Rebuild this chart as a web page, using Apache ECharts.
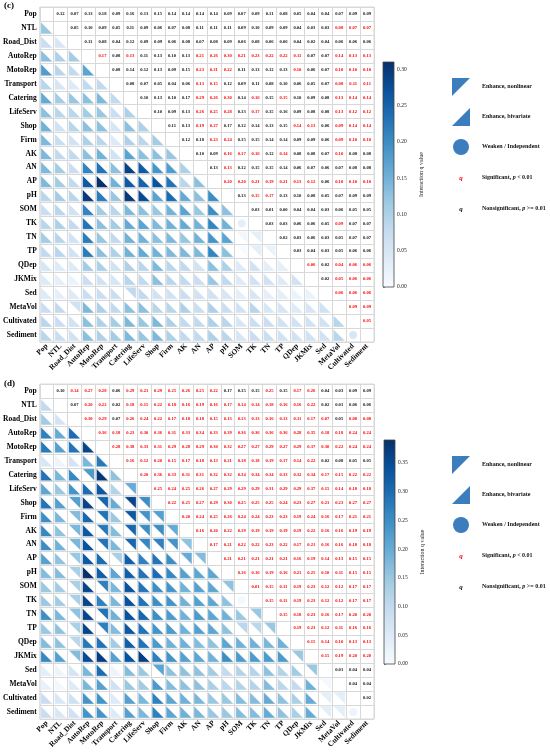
<!DOCTYPE html>
<html>
<head>
<meta charset="utf-8">
<script src="https://cdn.jsdelivr.net/npm/echarts@6/dist/echarts.min.js"></script>
<style>
html, body { margin: 0; padding: 0; background: #fff; }
#main { width: 550px; height: 754px; }
</style>
</head>
<body>
<div id="main"></div>
<script>
var vars = ['Pop', 'NTL', 'Road_Dist', 'AutoRep', 'MotoRep', 'Transport', 'Catering', 'LifeServ', 'Shop', 'Firm',
    'AK', 'AN', 'AP', 'pH', 'SOM', 'TK', 'TN', 'TP', 'QDep', 'JKMix', 'Sed', 'MetaVol', 'Cultivated', 'Sediment'];

// panel (c): interaction q, row i holds columns i+1 .. 23
var qC = [
    [0.12, 0.07, 0.13, 0.18, 0.09, 0.16, 0.13, 0.15, 0.14, 0.14, 0.14, 0.14, 0.09, 0.07, 0.09, 0.11, 0.08, 0.05, 0.04, 0.04, 0.07, 0.09, 0.09],
    [0.05, 0.10, 0.09, 0.05, 0.11, 0.09, 0.06, 0.07, 0.08, 0.11, 0.11, 0.11, 0.09, 0.10, 0.09, 0.09, 0.04, 0.03, 0.03, 0.08, 0.07, 0.07],
    [0.11, 0.08, 0.04, 0.12, 0.09, 0.09, 0.06, 0.08, 0.07, 0.08, 0.09, 0.06, 0.08, 0.06, 0.06, 0.04, 0.02, 0.04, 0.06, 0.06, 0.06],
    [0.17, 0.08, 0.13, 0.11, 0.13, 0.10, 0.13, 0.21, 0.26, 0.30, 0.21, 0.23, 0.22, 0.22, 0.11, 0.07, 0.07, 0.14, 0.13, 0.13],
    [0.08, 0.14, 0.12, 0.13, 0.09, 0.15, 0.23, 0.31, 0.22, 0.11, 0.13, 0.12, 0.13, 0.10, 0.06, 0.07, 0.10, 0.10, 0.10],
    [0.08, 0.07, 0.05, 0.04, 0.06, 0.13, 0.15, 0.12, 0.09, 0.11, 0.08, 0.10, 0.06, 0.05, 0.07, 0.08, 0.11, 0.11],
    [0.10, 0.13, 0.10, 0.17, 0.29, 0.26, 0.30, 0.14, 0.16, 0.15, 0.15, 0.10, 0.09, 0.08, 0.13, 0.14, 0.14],
    [0.10, 0.09, 0.13, 0.26, 0.25, 0.28, 0.13, 0.17, 0.15, 0.16, 0.09, 0.08, 0.08, 0.13, 0.12, 0.12],
    [0.11, 0.13, 0.19, 0.27, 0.17, 0.12, 0.14, 0.13, 0.15, 0.14, 0.13, 0.06, 0.09, 0.14, 0.14],
    [0.12, 0.18, 0.23, 0.24, 0.15, 0.15, 0.14, 0.14, 0.09, 0.09, 0.06, 0.09, 0.10, 0.10],
    [0.10, 0.09, 0.16, 0.17, 0.16, 0.12, 0.14, 0.08, 0.08, 0.07, 0.10, 0.08, 0.08],
    [0.13, 0.13, 0.12, 0.15, 0.15, 0.14, 0.06, 0.07, 0.06, 0.07, 0.08, 0.08],
    [0.20, 0.20, 0.21, 0.19, 0.21, 0.13, 0.12, 0.06, 0.10, 0.10, 0.10],
    [0.13, 0.15, 0.17, 0.13, 0.10, 0.08, 0.05, 0.07, 0.09, 0.09],
    [0.03, 0.01, 0.00, 0.04, 0.04, 0.03, 0.06, 0.05, 0.05],
    [0.03, 0.03, 0.06, 0.06, 0.05, 0.09, 0.07, 0.07],
    [0.02, 0.03, 0.06, 0.03, 0.05, 0.07, 0.07],
    [0.03, 0.04, 0.03, 0.05, 0.06, 0.06],
    [0.06, 0.02, 0.04, 0.06, 0.06],
    [0.02, 0.05, 0.06, 0.06],
    [0.06, 0.06, 0.06],
    [0.09, 0.09],
    [0.05]
];
// columns printed in red (p < 0.01) for each row of (c)
var redC = [
    [], [21, 22, 23], [], [4, 6, 11, 12, 13, 14, 15, 16, 17, 18, 21, 22, 23],
    [11, 12, 13, 18, 21, 22, 23], [11, 12, 21, 22, 23], [11, 12, 13, 15, 17, 21, 22, 23],
    [11, 12, 13, 15, 21, 22, 23], [11, 12, 18, 19, 21, 22, 23], [12, 13, 21, 22, 23],
    [13, 14, 15, 17, 21], [13], [13, 14, 15, 16, 17, 18, 19, 21, 22, 23], [15, 16],
    [], [21], [], [], [19, 21, 22, 23], [21, 22, 23], [21, 22, 23], [22, 23], [23]
];
// lower cells [row, col] that are bivariate enhance / weaken
var bivC = [[16, 14], [16, 15], [17, 14], [17, 15], [17, 16], [20, 6], [21, 2]];
var weakC = [[15, 14], [23, 22]];

// panel (d)
var qD = [
    [0.10, 0.14, 0.27, 0.28, 0.06, 0.29, 0.21, 0.29, 0.25, 0.26, 0.25, 0.22, 0.17, 0.15, 0.15, 0.25, 0.15, 0.17, 0.26, 0.04, 0.03, 0.09, 0.09],
    [0.07, 0.20, 0.22, 0.02, 0.18, 0.15, 0.22, 0.18, 0.16, 0.19, 0.16, 0.17, 0.14, 0.14, 0.18, 0.16, 0.16, 0.22, 0.02, 0.01, 0.06, 0.06],
    [0.30, 0.29, 0.07, 0.26, 0.24, 0.22, 0.17, 0.18, 0.18, 0.15, 0.13, 0.13, 0.13, 0.16, 0.13, 0.11, 0.17, 0.07, 0.05, 0.08, 0.08],
    [0.36, 0.18, 0.23, 0.30, 0.36, 0.31, 0.33, 0.34, 0.33, 0.39, 0.36, 0.36, 0.36, 0.36, 0.28, 0.35, 0.18, 0.18, 0.24, 0.24],
    [0.28, 0.38, 0.33, 0.31, 0.29, 0.28, 0.29, 0.30, 0.32, 0.27, 0.27, 0.29, 0.27, 0.29, 0.37, 0.30, 0.22, 0.24, 0.24],
    [0.16, 0.12, 0.20, 0.15, 0.17, 0.18, 0.13, 0.21, 0.18, 0.18, 0.19, 0.17, 0.14, 0.22, 0.02, 0.08, 0.05, 0.05],
    [0.20, 0.36, 0.33, 0.31, 0.31, 0.32, 0.32, 0.34, 0.34, 0.34, 0.33, 0.32, 0.34, 0.17, 0.15, 0.22, 0.22],
    [0.25, 0.24, 0.25, 0.26, 0.27, 0.29, 0.29, 0.29, 0.31, 0.29, 0.29, 0.37, 0.15, 0.14, 0.18, 0.18],
    [0.22, 0.25, 0.27, 0.29, 0.30, 0.25, 0.25, 0.25, 0.24, 0.23, 0.27, 0.21, 0.23, 0.27, 0.27],
    [0.20, 0.24, 0.25, 0.26, 0.24, 0.24, 0.23, 0.23, 0.19, 0.24, 0.16, 0.17, 0.21, 0.21],
    [0.16, 0.20, 0.22, 0.19, 0.19, 0.19, 0.19, 0.19, 0.22, 0.16, 0.16, 0.19, 0.19],
    [0.17, 0.21, 0.22, 0.22, 0.23, 0.22, 0.17, 0.21, 0.16, 0.16, 0.18, 0.18],
    [0.21, 0.21, 0.21, 0.21, 0.21, 0.16, 0.19, 0.14, 0.13, 0.15, 0.15],
    [0.16, 0.16, 0.19, 0.16, 0.21, 0.25, 0.10, 0.11, 0.15, 0.15],
    [0.01, 0.15, 0.11, 0.19, 0.23, 0.12, 0.12, 0.17, 0.17],
    [0.15, 0.11, 0.19, 0.23, 0.12, 0.12, 0.17, 0.17],
    [0.15, 0.18, 0.23, 0.16, 0.17, 0.20, 0.20],
    [0.19, 0.23, 0.12, 0.11, 0.16, 0.16],
    [0.15, 0.14, 0.10, 0.13, 0.13],
    [0.15, 0.19, 0.20, 0.20],
    [0.01, 0.04, 0.04],
    [0.04, 0.04],
    [0.02]
];
// columns printed in black (p >= 0.01) for each row of (d), the rest are red
var nsD = [
    [1, 5, 13, 14, 15, 17, 20, 21, 22, 23], [2, 5, 20, 21, 22, 23], [5, 21], [], [],
    [20, 21, 22, 23], [], [], [], [], [], [], [], [], [], [], [], [], [], [],
    [21, 22, 23], [22, 23], [23]
];
var bivD = [[6, 3], [7, 6], [8, 2], [8, 4], [8, 6], [8, 7], [9, 2], [9, 4], [9, 6], [9, 7], [9, 8],
    [10, 2], [10, 4], [10, 6], [10, 7], [10, 8], [10, 9], [11, 2], [11, 4], [11, 6], [11, 7], [11, 8],
    [11, 9], [11, 10], [12, 2], [12, 5], [12, 10], [12, 11], [13, 2], [14, 2], [14, 4], [14, 13],
    [15, 2], [16, 2], [16, 4], [16, 15], [17, 2], [17, 4], [17, 14], [17, 15], [17, 16], [18, 2],
    [19, 2], [19, 18], [20, 8], [20, 19], [21, 20], [22, 20], [22, 21], [23, 20], [23, 21]];
var weakD = [[15, 14], [23, 22]];

// colour bar ticks and tops
var ticksC = [0, 0.05, 0.10, 0.15, 0.20, 0.25, 0.30];
var ticksD = [0, 0.05, 0.10, 0.15, 0.20, 0.25, 0.30, 0.35];
var maxC = 0.31;
var maxD = 0.39;

var blues = ['#f7fbff', '#deebf7', '#c6dbef', '#9ecae1', '#6baed6', '#4292c6', '#2171b5', '#08519c', '#08306b'];
var serif = "'Liberation Serif', 'Times New Roman', serif";
var iconBlue = '#3b7dbd';

function hasPair(list, r, c) {
    for (var i = 0; i < list.length; i++) {
        if (list[i][0] === r && list[i][1] === c) return true;
    }
    return false;
}

function buildCells(q, isSig, biv, weak) {
    var text = [], glyph = [];
    q.forEach(function (row, i) {
        row.forEach(function (v, k) {
            var j = i + 1 + k;
            text.push([j, i, v, isSig(i, j) ? 1 : 0]);
            var kind = hasPair(weak, j, i) ? 2 : (hasPair(biv, j, i) ? 1 : 0);
            glyph.push([i, j, v, kind]);
        });
    });
    return { text: text, glyph: glyph };
}

var cellsC = buildCells(qC, function (i, j) { return redC[i].indexOf(j) >= 0; }, bivC, weakC);
var cellsD = buildCells(qD, function (i, j) { return nsD[i].indexOf(j) < 0; }, bivD, weakD);

function renderText(params, api) {
    var p = api.coord([api.value(0), api.value(1)]);
    return {
        type: 'text',
        style: {
            text: api.value(2).toFixed(2),
            x: p[0], y: p[1],
            align: 'center', verticalAlign: 'middle',
            fontSize: 4.6, fontWeight: 'bold', fontFamily: serif,
            fill: api.value(3) ? '#ff0000' : '#111'
        }
    };
}

function renderGlyph(params, api) {
    var p = api.coord([api.value(0), api.value(1)]);
    var s = api.size([1, 1]);
    var x0 = p[0] - s[0] / 2 + 1, y0 = p[1] - s[1] / 2 + 1;
    var x1 = p[0] + s[0] / 2 - 1, y1 = p[1] + s[1] / 2 - 1;
    var color = api.visual('color');
    var kind = api.value(3);
    if (kind === 2) {
        return {
            type: 'circle',
            shape: { cx: p[0], cy: p[1], r: s[0] * 0.3 },
            style: { fill: color, stroke: 'rgba(255,255,255,0.8)', lineWidth: 0.5 }
        };
    }
    var pts = kind === 1 ? [[x0, y0], [x1, y0], [x1, y1]] : [[x0, y0], [x0, y1], [x1, y1]];
    return {
        type: 'polygon',
        shape: { points: pts },
        style: { fill: color, stroke: 'rgba(255,255,255,0.8)', lineWidth: 0.5 }
    };
}

function renderBar(params, api) {
    var a = api.coord([0, 0]);
    var b = api.coord([1, api.value(1)]);
    var stops = blues.map(function (c, i) { return { offset: 1 - i / (blues.length - 1), color: c }; });
    stops.reverse();
    return {
        type: 'rect',
        shape: { x: a[0], y: b[1], width: b[0] - a[0], height: a[1] - b[1] },
        style: { fill: new echarts.graphic.LinearGradient(0, 0, 0, 1, stops), stroke: '#444', lineWidth: 0.8 }
    };
}

function matrixAxes(gi) {
    var split = { show: true, interval: 0, lineStyle: { color: '#d8d8d8', width: 1 } };
    return {
        x: {
            type: 'category', gridIndex: gi, data: vars, position: 'bottom',
            axisLine: { show: false }, axisTick: { show: false }, splitLine: split,
            axisLabel: { interval: 0, rotate: 45, margin: 3, fontSize: 7.5, fontWeight: 'bold', fontFamily: serif, color: '#000' }
        },
        y: {
            type: 'category', gridIndex: gi, data: vars, inverse: true,
            axisLine: { show: false }, axisTick: { show: false }, splitLine: split,
            axisLabel: { interval: 0, margin: 3, fontSize: 7.5, fontWeight: 'bold', fontFamily: serif, color: '#000' }
        }
    };
}

function barAxes(gi, max, ticks) {
    return {
        x: { type: 'value', gridIndex: gi, min: 0, max: 1, show: false },
        y: {
            type: 'value', gridIndex: gi, min: 0, max: max, interval: 0.05, position: 'right',
            name: 'Interaction q value', nameLocation: 'middle', nameRotate: 90, nameGap: 24,
            nameTextStyle: { fontSize: 6, fontFamily: serif, color: '#222' },
            axisLine: { show: false }, splitLine: { show: false },
            axisTick: { show: true, length: 2, lineStyle: { color: '#444', width: 0.6 } },
            axisLabel: {
                margin: 3, fontSize: 5.5, fontFamily: serif, color: '#222',
                formatter: function (v) {
                    for (var i = 0; i < ticks.length; i++) {
                        if (Math.abs(ticks[i] - v) < 1e-6) return ticks[i].toFixed(2);
                    }
                    return '';
                }
            }
        }
    };
}

function legendItems(oy) {
    var t = { fontSize: 6, fontWeight: 'bold', fontFamily: serif, fill: '#111', verticalAlign: 'middle' };
    function label(y, text) {
        return {
            type: 'text', left: 482, top: y - 4,
            style: Object.assign({}, t, { text: text, rich: { i: { fontStyle: 'italic', fontSize: 6, fontWeight: 'bold', fontFamily: serif } } })
        };
    }
    function q(y, color) {
        return {
            type: 'text', x: 461, y: y,
            style: { text: 'q', fontSize: 7, fontStyle: 'italic', fontWeight: 'bold', fontFamily: serif, fill: color, align: 'center', verticalAlign: 'middle' }
        };
    }
    return [
        { type: 'polygon', shape: { points: [[452, oy], [470, oy], [452, oy + 18]] }, style: { fill: iconBlue } },
        label(oy + 9, 'Enhance, nonlinear'),
        { type: 'polygon', shape: { points: [[470, oy + 30], [470, oy + 48], [452, oy + 48]] }, style: { fill: iconBlue } },
        label(oy + 39, 'Enhance, bivariate'),
        { type: 'circle', shape: { cx: 461, cy: oy + 69, r: 8 }, style: { fill: iconBlue } },
        label(oy + 69, 'Weaken / Independent'),
        q(oy + 100, '#ff0000'),
        label(oy + 100, 'Significant, {i|p} < 0.01'),
        q(oy + 131, '#111'),
        label(oy + 131, 'Nonsignificant, {i|p} >= 0.01')
    ];
}

var myChart = echarts.init(document.getElementById('main'), null, { renderer: 'canvas' });

var mc = matrixAxes(0), md = matrixAxes(1);
var bc = barAxes(2, maxC, ticksC), bd = barAxes(3, maxD, ticksD);

var option = {
    animation: false,
    backgroundColor: '#fff',
    grid: [
        { left: 36, top: 7, width: 338, height: 335, show: true, borderColor: '#d8d8d8', borderWidth: 1 },
        { left: 36, top: 384, width: 338, height: 335, show: true, borderColor: '#d8d8d8', borderWidth: 1 },
        { left: 383, top: 62, width: 11, height: 225 },
        { left: 384, top: 440, width: 11, height: 224 }
    ],
    xAxis: [mc.x, md.x, bc.x, bd.x],
    yAxis: [mc.y, md.y, bc.y, bd.y],
    visualMap: [
        { type: 'continuous', show: false, seriesIndex: 1, dimension: 2, min: 0, max: maxC, inRange: { color: blues } },
        { type: 'continuous', show: false, seriesIndex: 3, dimension: 2, min: 0, max: maxD, inRange: { color: blues } }
    ],
    graphic: [
        { type: 'text', left: 4, top: 1, style: { text: '(c)', fontSize: 9, fontWeight: 'bold', fontFamily: serif, fill: '#000' } },
        { type: 'text', left: 4, top: 379, style: { text: '(d)', fontSize: 9, fontWeight: 'bold', fontFamily: serif, fill: '#000' } }
    ].concat(legendItems(78), legendItems(456)),
    series: [
        { type: 'custom', xAxisIndex: 0, yAxisIndex: 0, renderItem: renderText, data: cellsC.text, silent: true },
        { type: 'custom', xAxisIndex: 0, yAxisIndex: 0, renderItem: renderGlyph, data: cellsC.glyph, silent: true },
        { type: 'custom', xAxisIndex: 1, yAxisIndex: 1, renderItem: renderText, data: cellsD.text, silent: true },
        { type: 'custom', xAxisIndex: 1, yAxisIndex: 1, renderItem: renderGlyph, data: cellsD.glyph, silent: true },
        { type: 'custom', xAxisIndex: 2, yAxisIndex: 2, renderItem: renderBar, data: [[0, maxC]], silent: true },
        { type: 'custom', xAxisIndex: 3, yAxisIndex: 3, renderItem: renderBar, data: [[0, maxD]], silent: true }
    ]
};

myChart.setOption(option);
</script>
</body>
</html>
